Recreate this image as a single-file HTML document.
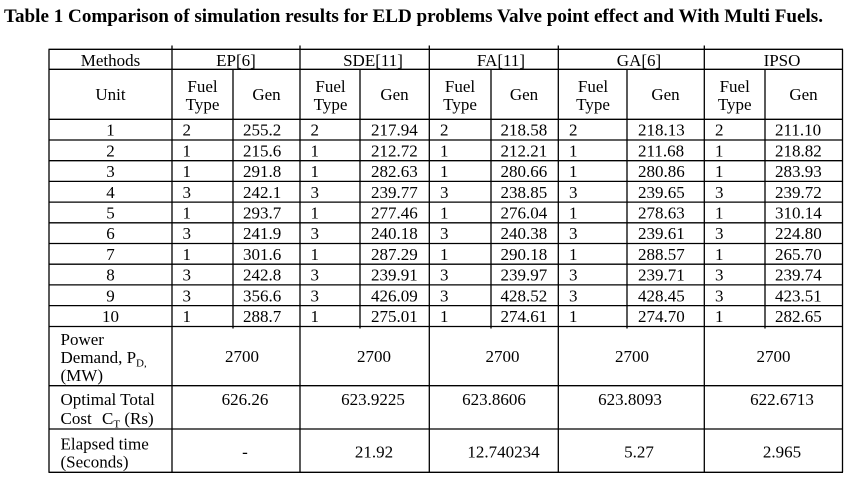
<!DOCTYPE html>
<html>
<head>
<meta charset="utf-8">
<style>
  html, body { margin: 0; padding: 0; background: #ffffff; }
  svg { display: block; }
  text { font-family: "Liberation Serif", "Times New Roman", serif; fill: #000; }
  .t { font-size: 17px; }
  .c { text-anchor: middle; }
  .title { font-size: 19px; font-weight: bold; }
  .sub { font-size: 11px; }
</style>
</head>
<body>
<svg width="856" height="479" viewBox="0 0 856 479" xmlns="http://www.w3.org/2000/svg">
  <rect x="0" y="0" width="856" height="479" fill="#fff"/>
  <text class="title" x="4" y="22" textLength="819" lengthAdjust="spacingAndGlyphs">Table 1 Comparison of simulation results for ELD problems Valve point effect and With Multi Fuels.</text>

  <g stroke="#000" stroke-width="1.3" fill="none">
    <!-- horizontal lines -->
    <line x1="48.5" y1="49.3" x2="843" y2="49.3"/>
    <line x1="48.5" y1="69.3" x2="843" y2="69.3"/>
    <line x1="48.5" y1="119.3" x2="843" y2="119.3"/>
    <line x1="48.5" y1="140" x2="843" y2="140"/>
    <line x1="48.5" y1="160.7" x2="843" y2="160.7"/>
    <line x1="48.5" y1="181.4" x2="843" y2="181.4"/>
    <line x1="48.5" y1="202.1" x2="843" y2="202.1"/>
    <line x1="48.5" y1="222.8" x2="843" y2="222.8"/>
    <line x1="48.5" y1="243.5" x2="843" y2="243.5"/>
    <line x1="48.5" y1="264.2" x2="843" y2="264.2"/>
    <line x1="48.5" y1="284.9" x2="843" y2="284.9"/>
    <line x1="48.5" y1="305.6" x2="843" y2="305.6"/>
    <line x1="48.5" y1="326.5" x2="843" y2="326.5"/>
    <line x1="48.5" y1="385.7" x2="843" y2="385.7"/>
    <line x1="48.5" y1="429" x2="843" y2="429"/>
    <line x1="48.5" y1="472.3" x2="843" y2="472.3"/>
    <!-- outer verticals -->
    <line x1="49" y1="49.3" x2="49" y2="472.3"/>
    <line x1="842.5" y1="49.3" x2="842.5" y2="472.3"/>
    <!-- group verticals -->
    <line x1="172" y1="45.5" x2="172" y2="472.3"/>
    <line x1="300" y1="45.5" x2="300" y2="472.3"/>
    <line x1="429.3" y1="45.5" x2="429.3" y2="472.3"/>
    <line x1="558.3" y1="45.5" x2="558.3" y2="472.3"/>
    <line x1="704.3" y1="45.5" x2="704.3" y2="472.3"/>
    <!-- fuel/gen dividers -->
    <line x1="233" y1="69.3" x2="233" y2="328.5"/>
    <line x1="360" y1="69.3" x2="360" y2="328.5"/>
    <line x1="491" y1="69.3" x2="491" y2="328.5"/>
    <line x1="627" y1="69.3" x2="627" y2="328.5"/>
    <line x1="765" y1="69.3" x2="765" y2="328.5"/>
  </g>

  <!-- header row -->
  <g class="t">
    <text class="t c" x="110.5" y="66">Methods</text>
    <text class="t c" x="236" y="66">EP[6]</text>
    <text class="t c" x="373" y="66">SDE[11]</text>
    <text class="t c" x="501" y="66">FA[11]</text>
    <text class="t c" x="639" y="66">GA[6]</text>
    <text class="t c" x="782" y="66">IPSO</text>

    <text class="t c" x="110.5" y="100">Unit</text>
    <text class="t c" x="202.5" y="92">Fuel</text><text class="t c" x="202.5" y="110">Type</text>
    <text class="t c" x="266.5" y="100">Gen</text>
    <text class="t c" x="330.5" y="92">Fuel</text><text class="t c" x="330.5" y="110">Type</text>
    <text class="t c" x="394.5" y="100">Gen</text>
    <text class="t c" x="460" y="92">Fuel</text><text class="t c" x="460" y="110">Type</text>
    <text class="t c" x="524" y="100">Gen</text>
    <text class="t c" x="593" y="92">Fuel</text><text class="t c" x="593" y="110">Type</text>
    <text class="t c" x="665.5" y="100">Gen</text>
    <text class="t c" x="734.7" y="92">Fuel</text><text class="t c" x="734.7" y="110">Type</text>
    <text class="t c" x="803.5" y="100">Gen</text>
  </g>

  <!-- data rows -->
  <g class="t">
    <!-- row 1 -->
    <text class="t c" x="110.5" y="135.7">1</text>
    <text class="t" x="182.5" y="135.7">2</text><text class="t" x="243" y="135.7">255.2</text>
    <text class="t" x="310.5" y="135.7">2</text><text class="t" x="371" y="135.7">217.94</text>
    <text class="t" x="440" y="135.7">2</text><text class="t" x="500.5" y="135.7">218.58</text>
    <text class="t" x="569" y="135.7">2</text><text class="t" x="638" y="135.7">218.13</text>
    <text class="t" x="715" y="135.7">2</text><text class="t" x="775" y="135.7">211.10</text>
    <!-- row 2 -->
    <text class="t c" x="110.5" y="156.4">2</text>
    <text class="t" x="182.5" y="156.4">1</text><text class="t" x="243" y="156.4">215.6</text>
    <text class="t" x="310.5" y="156.4">1</text><text class="t" x="371" y="156.4">212.72</text>
    <text class="t" x="440" y="156.4">1</text><text class="t" x="500.5" y="156.4">212.21</text>
    <text class="t" x="569" y="156.4">1</text><text class="t" x="638" y="156.4">211.68</text>
    <text class="t" x="715" y="156.4">1</text><text class="t" x="775" y="156.4">218.82</text>
    <!-- row 3 -->
    <text class="t c" x="110.5" y="177.1">3</text>
    <text class="t" x="182.5" y="177.1">1</text><text class="t" x="243" y="177.1">291.8</text>
    <text class="t" x="310.5" y="177.1">1</text><text class="t" x="371" y="177.1">282.63</text>
    <text class="t" x="440" y="177.1">1</text><text class="t" x="500.5" y="177.1">280.66</text>
    <text class="t" x="569" y="177.1">1</text><text class="t" x="638" y="177.1">280.86</text>
    <text class="t" x="715" y="177.1">1</text><text class="t" x="775" y="177.1">283.93</text>
    <!-- row 4 -->
    <text class="t c" x="110.5" y="197.8">4</text>
    <text class="t" x="182.5" y="197.8">3</text><text class="t" x="243" y="197.8">242.1</text>
    <text class="t" x="310.5" y="197.8">3</text><text class="t" x="371" y="197.8">239.77</text>
    <text class="t" x="440" y="197.8">3</text><text class="t" x="500.5" y="197.8">238.85</text>
    <text class="t" x="569" y="197.8">3</text><text class="t" x="638" y="197.8">239.65</text>
    <text class="t" x="715" y="197.8">3</text><text class="t" x="775" y="197.8">239.72</text>
    <!-- row 5 -->
    <text class="t c" x="110.5" y="218.5">5</text>
    <text class="t" x="182.5" y="218.5">1</text><text class="t" x="243" y="218.5">293.7</text>
    <text class="t" x="310.5" y="218.5">1</text><text class="t" x="371" y="218.5">277.46</text>
    <text class="t" x="440" y="218.5">1</text><text class="t" x="500.5" y="218.5">276.04</text>
    <text class="t" x="569" y="218.5">1</text><text class="t" x="638" y="218.5">278.63</text>
    <text class="t" x="715" y="218.5">1</text><text class="t" x="775" y="218.5">310.14</text>
    <!-- row 6 -->
    <text class="t c" x="110.5" y="239.2">6</text>
    <text class="t" x="182.5" y="239.2">3</text><text class="t" x="243" y="239.2">241.9</text>
    <text class="t" x="310.5" y="239.2">3</text><text class="t" x="371" y="239.2">240.18</text>
    <text class="t" x="440" y="239.2">3</text><text class="t" x="500.5" y="239.2">240.38</text>
    <text class="t" x="569" y="239.2">3</text><text class="t" x="638" y="239.2">239.61</text>
    <text class="t" x="715" y="239.2">3</text><text class="t" x="775" y="239.2">224.80</text>
    <!-- row 7 -->
    <text class="t c" x="110.5" y="259.9">7</text>
    <text class="t" x="182.5" y="259.9">1</text><text class="t" x="243" y="259.9">301.6</text>
    <text class="t" x="310.5" y="259.9">1</text><text class="t" x="371" y="259.9">287.29</text>
    <text class="t" x="440" y="259.9">1</text><text class="t" x="500.5" y="259.9">290.18</text>
    <text class="t" x="569" y="259.9">1</text><text class="t" x="638" y="259.9">288.57</text>
    <text class="t" x="715" y="259.9">1</text><text class="t" x="775" y="259.9">265.70</text>
    <!-- row 8 -->
    <text class="t c" x="110.5" y="280.6">8</text>
    <text class="t" x="182.5" y="280.6">3</text><text class="t" x="243" y="280.6">242.8</text>
    <text class="t" x="310.5" y="280.6">3</text><text class="t" x="371" y="280.6">239.91</text>
    <text class="t" x="440" y="280.6">3</text><text class="t" x="500.5" y="280.6">239.97</text>
    <text class="t" x="569" y="280.6">3</text><text class="t" x="638" y="280.6">239.71</text>
    <text class="t" x="715" y="280.6">3</text><text class="t" x="775" y="280.6">239.74</text>
    <!-- row 9 -->
    <text class="t c" x="110.5" y="301.3">9</text>
    <text class="t" x="182.5" y="301.3">3</text><text class="t" x="243" y="301.3">356.6</text>
    <text class="t" x="310.5" y="301.3">3</text><text class="t" x="371" y="301.3">426.09</text>
    <text class="t" x="440" y="301.3">3</text><text class="t" x="500.5" y="301.3">428.52</text>
    <text class="t" x="569" y="301.3">3</text><text class="t" x="638" y="301.3">428.45</text>
    <text class="t" x="715" y="301.3">3</text><text class="t" x="775" y="301.3">423.51</text>
    <!-- row 10 -->
    <text class="t c" x="110.5" y="322">10</text>
    <text class="t" x="182.5" y="322">1</text><text class="t" x="243" y="322">288.7</text>
    <text class="t" x="310.5" y="322">1</text><text class="t" x="371" y="322">275.01</text>
    <text class="t" x="440" y="322">1</text><text class="t" x="500.5" y="322">274.61</text>
    <text class="t" x="569" y="322">1</text><text class="t" x="638" y="322">274.70</text>
    <text class="t" x="715" y="322">1</text><text class="t" x="775" y="322">282.65</text>
  </g>

  <!-- bottom label rows -->
  <g>
    <text class="t" x="60.5" y="345">Power</text>
    <text class="t" x="60.5" y="363">Demand, P<tspan class="sub" dy="3.5">D,</tspan></text>
    <text class="t" x="60.5" y="381">(MW)</text>

    <text class="t c" x="242" y="362">2700</text>
    <text class="t c" x="374" y="362">2700</text>
    <text class="t c" x="502.5" y="362">2700</text>
    <text class="t c" x="632" y="362">2700</text>
    <text class="t c" x="773.5" y="362">2700</text>

    <text class="t" x="60.5" y="405">Optimal Total</text>
    <text class="t" x="60.5" y="424">Cost</text>
    <text class="t" x="102" y="424">C<tspan class="sub" dy="3.5">T</tspan><tspan dy="-3.5"> (Rs)</tspan></text>

    <text class="t c" x="245" y="405">626.26</text>
    <text class="t c" x="373" y="405">623.9225</text>
    <text class="t c" x="494" y="405">623.8606</text>
    <text class="t c" x="630" y="405">623.8093</text>
    <text class="t c" x="782" y="405">622.6713</text>

    <text class="t" x="60.5" y="449.5">Elapsed time</text>
    <text class="t" x="60.5" y="467.5">(Seconds)</text>

    <text class="t c" x="245" y="457.5">-</text>
    <text class="t c" x="374" y="457.5">21.92</text>
    <text class="t c" x="503.5" y="457.5">12.740234</text>
    <text class="t c" x="639" y="457.5">5.27</text>
    <text class="t c" x="782" y="457.5">2.965</text>
  </g>
</svg>
</body>
</html>
